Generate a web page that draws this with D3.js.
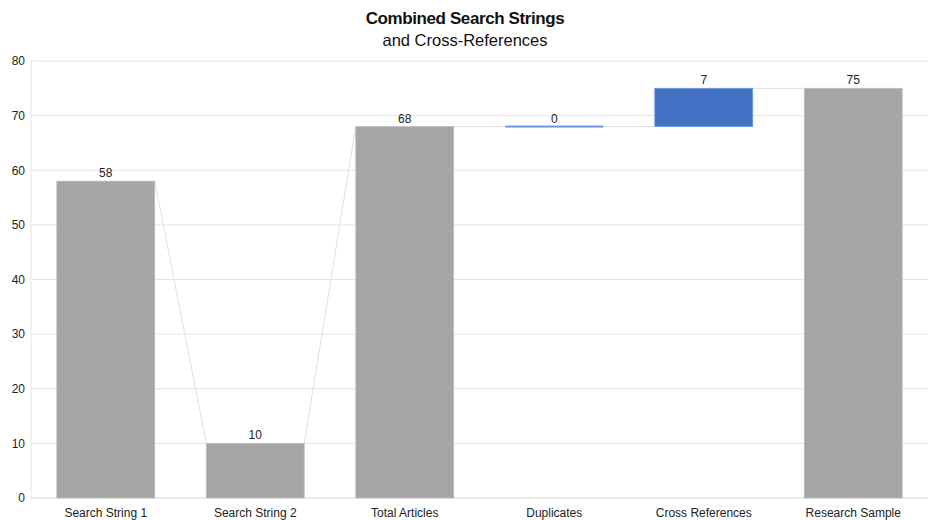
<!DOCTYPE html>
<html>
<head>
<meta charset="utf-8">
<script src="https://cdn.jsdelivr.net/npm/d3@7"></script>
<style>
  body { margin: 0; background: #fff; }
  text { font-family: "Liberation Sans", Arial, sans-serif; }
</style>
</head>
<body>
<svg></svg>
<script>
const width = 930;
const height = 520;

// chart data
const categories = ["Search String 1", "Search String 2", "Total Articles", "Duplicates", "Cross References", "Research Sample"];
const values = [58, 10, 68, 0, 7, 75];
// "total" bars start at zero, "step" bars start where the previous total ended
const kinds = ["total", "total", "total", "step", "step", "total"];
const yTicks = [0, 10, 20, 30, 40, 50, 60, 70, 80];

const margin = { top: 61, right: 2, bottom: 22, left: 31 };

const svg = d3.select("svg").attr("width", width).attr("height", height);

// work out bottom/top of each bar
let running = 0;
const bars = categories.map((c, i) => {
  let y0, y1;
  if (kinds[i] === "total") {
    y0 = 0;
    y1 = values[i];
    running = values[i];
  } else {
    y0 = running;
    y1 = running + values[i];
    running = y1;
  }
  return { name: c, value: values[i], kind: kinds[i], y0: y0, y1: y1 };
});

const x = d3
  .scaleBand()
  .domain(categories)
  .range([margin.left, width - margin.right])
  .paddingInner(0.345)
  .paddingOuter(0.1725);

const y = d3
  .scaleLinear()
  .domain([0, 80])
  .range([height - margin.bottom, margin.top]);

// gridlines
svg
  .append("g")
  .selectAll("line")
  .data(yTicks)
  .enter()
  .append("line")
  .attr("x1", margin.left)
  .attr("x2", width - margin.right)
  .attr("y1", (d) => y(d))
  .attr("y2", (d) => y(d))
  .attr("stroke", (d) => (d === 0 ? "#d4d4d4" : "#e4e4e4"))
  .attr("stroke-width", 1);

// left axis line
svg
  .append("line")
  .attr("x1", margin.left)
  .attr("x2", margin.left)
  .attr("y1", y(80))
  .attr("y2", y(0))
  .attr("stroke", "#e4e4e4");

// y tick labels
const yAxis = svg
  .append("g")
  .attr("transform", `translate(${margin.left - 6},0)`)
  .call(d3.axisLeft(y).tickValues(yTicks).tickSize(0).tickPadding(0));
yAxis.select(".domain").remove();
yAxis.selectAll("text").attr("font-size", 12).attr("fill", "#222").attr("font-family", "Liberation Sans, Arial, sans-serif");

// x labels
const xAxis = svg
  .append("g")
  .attr("transform", `translate(0,${y(0)})`)
  .call(d3.axisBottom(x).tickSize(0).tickPadding(10));
xAxis.select(".domain").remove();
xAxis.selectAll("text").attr("font-size", 12).attr("fill", "#222").attr("font-family", "Liberation Sans, Arial, sans-serif");

// connector lines between bars
const links = bars.slice(0, -1).map((b, i) => {
  const next = bars[i + 1];
  const toLevel = next.kind === "total" ? next.y1 : next.y0;
  return { x1: x(b.name) + x.bandwidth(), x2: x(next.name), v1: b.y1, v2: toLevel };
});

svg
  .append("g")
  .selectAll("line")
  .data(links)
  .enter()
  .append("line")
  .attr("x1", (d) => d.x1)
  .attr("x2", (d) => d.x2)
  .attr("y1", (d) => y(d.v1))
  .attr("y2", (d) => y(d.v2))
  .attr("stroke", "#e0e0e0")
  .attr("stroke-width", 1);

// bars
svg
  .append("g")
  .selectAll("rect")
  .data(bars)
  .enter()
  .append("rect")
  .attr("x", (d) => x(d.name))
  .attr("width", x.bandwidth())
  .attr("y", (d) => y(Math.max(d.y0, d.y1)) - (d.y0 === d.y1 ? 1 : 0))
  .attr("height", (d) => Math.max(2, Math.abs(y(d.y0) - y(d.y1))))
  .attr("fill", (d) => (d.kind === "total" ? "#a5a5a5" : d.value === 0 ? "#6f95dc" : "#4472c4"))
  .attr("stroke", (d) => (d.kind === "total" ? "#bdbdbd" : "#6f95dc"))
  .attr("stroke-width", (d) => (d.value === 0 ? 0 : 0.8));

// value labels
svg
  .append("g")
  .selectAll("text")
  .data(bars)
  .enter()
  .append("text")
  .attr("x", (d) => x(d.name) + x.bandwidth() / 2)
  .attr("y", (d) => y(Math.max(d.y0, d.y1)) - 4)
  .attr("text-anchor", "middle")
  .attr("font-size", 12)
  .attr("fill", "#222")
  .text((d) => d.value);

// title
svg
  .append("text")
  .attr("x", width / 2)
  .attr("y", 24)
  .attr("text-anchor", "middle")
  .attr("font-size", 17)
  .attr("font-weight", "bold")
  .attr("letter-spacing", -0.4)
  .attr("fill", "#111")
  .text("Combined Search Strings");

svg
  .append("text")
  .attr("x", width / 2)
  .attr("y", 46)
  .attr("text-anchor", "middle")
  .attr("font-size", 16.5)
  .attr("fill", "#111")
  .text("and Cross-References");
</script>
</body>
</html>
